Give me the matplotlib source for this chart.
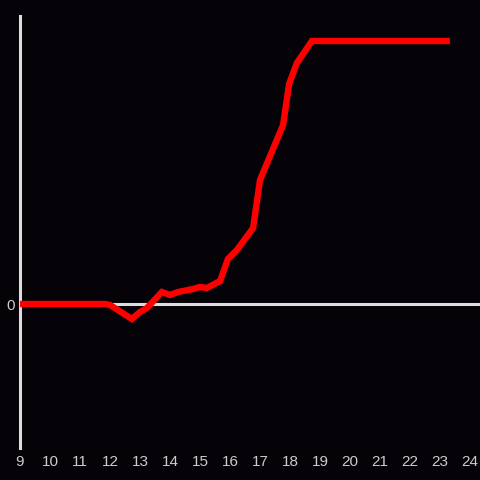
import matplotlib
matplotlib.use("Agg")
import matplotlib.pyplot as plt

hours = [9.0, 11.83, 12.0, 12.73, 13.0, 13.23, 13.73, 14.0, 14.27, 14.77, 15.0, 15.23,
         15.67, 15.93, 16.23, 16.77, 17.0, 17.77, 17.97, 18.23, 18.73, 23.33]
values = [0, 0, -1, -15, -8, -4, 12, 9, 12, 15, 17, 16,
          23, 45, 54, 76, 124, 179, 220, 241, 263, 263]
xticks = list(range(9, 25))

bg = "#050307"
fig = plt.figure(figsize=(4.8, 4.8), dpi=100, facecolor=bg)
ax = fig.add_axes([20/480, 32/480, 460/480, 432/480], facecolor=bg)

ax.axhline(0, color="#dddddd", lw=2.2, zorder=1)
ax.plot(hours, values, color="#ff0000", lw=4.6, solid_capstyle="butt",
        solid_joinstyle="miter", zorder=3)

ax.set_xlim(9, 24.333)
ax.set_ylim(-144, 288)
ax.set_xticks(xticks)
ax.set_xticklabels([str(t) for t in xticks])
ax.set_yticks([0])
ax.set_yticklabels(["0"])
for s in ["top", "right", "bottom"]:
    ax.spines[s].set_visible(False)
ax.spines["left"].set_color("#dddddd")
ax.spines["left"].set_linewidth(2.2)
ax.tick_params(axis="both", length=0, colors="#cccccc", labelsize=11,
               labelfontfamily="Liberation Sans")
ax.tick_params(axis="x", pad=5)
ax.tick_params(axis="y", pad=4)

fig.savefig("out.png", dpi=100, facecolor=bg)
